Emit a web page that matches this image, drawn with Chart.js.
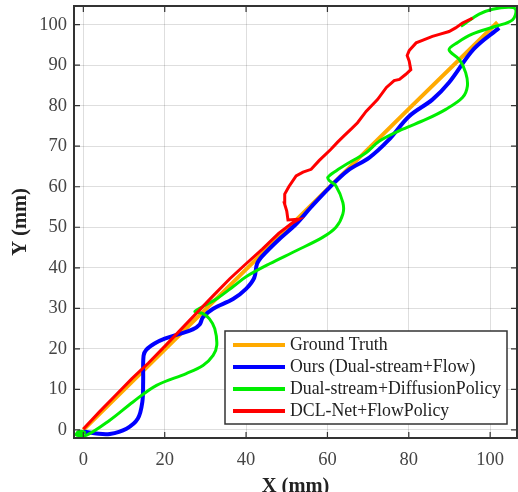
<!DOCTYPE html>
<html>
<head>
<meta charset="utf-8">
<script src="https://cdn.jsdelivr.net/npm/chart.js@4.4.1/dist/chart.umd.min.js"></script>
<style>
body { margin: 0; background: #fff; }
#wrap { width: 518px; height: 492px; }
</style>
</head>
<body>
<div id="wrap"><canvas id="trajChart"></canvas></div>
<script>
// trajectory data (mm)
const seriesNames = ["Ground Truth", "Ours (Dual-stream+Flow)", "Dual-stream+DiffusionPolicy", "DCL-Net+FlowPolicy"];
const seriesColors = ["#ffaa00", "#0000ff", "#00ee00", "#ff0000"];

const xTicks = [0, 20, 40, 60, 80, 100];
const yTicks = [0, 10, 20, 30, 40, 50, 60, 70, 80, 90, 100];

const gtX = [0, 20, 40, 60, 80, 101.8];
const gtY = [0, 19.8, 39.6, 59.4, 79.2, 100.6];

const oursX = [0, 3.2, 6.5, 10.6, 13.4, 14.5, 14.7, 14.8, 15.5, 17.5, 20, 23.7, 26.9, 28.6, 29.4, 31.9, 36.8, 40, 42, 42.7, 44.1, 48.2, 52.3, 56, 60.5, 65, 70.3, 75, 80.1, 85.8, 89.9, 96, 102.2];
const oursY = [-0.4, -0.9, -1.0, 0.3, 2.8, 6.9, 12, 18.3, 19.8, 21.3, 22.5, 23.7, 24.8, 26, 27.8, 29.9, 32.3, 34.8, 37.5, 41, 43, 47.1, 50.8, 55, 59.8, 64, 67.2, 71.5, 77.4, 81.5, 85.7, 94, 99.2];

const diffX = [-2, -1.2, 0.3, -1.5, 0.8, 6.5, 12.2, 18, 25.3, 29.4, 31.9, 32.8, 32.3, 31, 29.4, 27.4, 29.5, 33, 37, 40, 45.8, 52.3, 58.8, 62.1, 63.8, 63.8, 62.1, 60.5, 60.1, 62.1, 65.4, 69.5, 72.8, 78.5, 84.2, 89.1, 93.2, 94.4, 94, 92.4, 89.9, 92, 95.7, 101.4, 105.5, 106.3, 104.7, 100.6, 97.3, 94, 92.8];
const diffY = [-1.5, -0.4, -0.6, -1.3, -1.3, 2.4, 6.9, 11, 13.9, 15.9, 18.4, 20.9, 25, 27.4, 28.7, 29.2, 30.5, 32.5, 35.5, 37.8, 41, 44.2, 47.5, 50, 53.3, 56.1, 60.2, 61.5, 62.3, 63.9, 66, 68.4, 71.3, 74.2, 76.6, 79.1, 82, 84.8, 88.1, 91.4, 93.8, 95.6, 97.7, 99.6, 101.2, 103.7, 104.3, 103.8, 102.6, 100.4, 99.6];

const dclX = [0, 4, 8, 12, 16, 20, 24, 28, 32, 36, 40, 44, 48, 51, 53, 50.3, 50, 49.4, 49.5, 50.5, 52.3, 54, 56, 58, 60.8, 62.5, 64, 66, 67.4, 69.5, 72.3, 74.5, 76.4, 77.7, 79.2, 80.5, 80.1, 79.6, 80.1, 81.8, 83.5, 85.8, 87.5, 89.9, 91.5, 93.2, 95.7];
const dclY = [0.2, 4.5, 8.6, 12.7, 16.5, 20.6, 24.8, 29, 33.2, 37.3, 41, 44.6, 48.5, 50.8, 52, 51.8, 54, 56, 58.2, 60, 62.7, 63.6, 64.3, 66.5, 69.2, 71, 72.5, 74.4, 75.8, 78.6, 81.5, 84.5, 86.2, 86.5, 87.7, 88.9, 91, 92.4, 93.6, 95.5, 96.2, 97.1, 97.6, 98.3, 99.2, 100.4, 101.6];

function toPoints(xs, ys) {
    return xs.map((x, i) => ({ x: x, y: ys[i] }));
}

Chart.defaults.font.family = "'Liberation Serif', 'Times New Roman', serif";

// box around the plot + inward tick marks on all four sides
const boxPlugin = {
    id: "boxPlugin",
    afterDraw(chart) {
        const ctx = chart.ctx;
        const a = chart.chartArea;
        const xs = chart.scales.x, ys = chart.scales.y;
        ctx.save();
        ctx.strokeStyle = "#333";
        ctx.lineWidth = 1.2;
        ctx.beginPath();
        xs.ticks.forEach(t => {
            const p = xs.getPixelForValue(t.value);
            ctx.moveTo(p, a.bottom); ctx.lineTo(p, a.bottom - 6);
            ctx.moveTo(p, a.top); ctx.lineTo(p, a.top + 6);
        });
        ys.ticks.forEach(t => {
            const p = ys.getPixelForValue(t.value);
            ctx.moveTo(a.left, p); ctx.lineTo(a.left + 6, p);
            ctx.moveTo(a.right, p); ctx.lineTo(a.right - 6, p);
        });
        ctx.stroke();
        ctx.lineWidth = 2;
        ctx.strokeRect(a.left, a.top, a.right - a.left, a.bottom - a.top);
        ctx.restore();
    }
};

// legend drawn inside the plot, lower right
const legendPlugin = {
    id: "legendBox",
    afterDraw(chart) {
        const ctx = chart.ctx;
        const x0 = 225, y0 = 331, w = 282, h = 93;
        ctx.save();
        ctx.fillStyle = "#fff";
        ctx.fillRect(x0, y0, w, h);
        ctx.strokeStyle = "#333";
        ctx.lineWidth = 1.5;
        ctx.strokeRect(x0, y0, w, h);
        ctx.font = "17.8px 'Liberation Serif', serif";
        ctx.textBaseline = "middle";
        seriesNames.forEach((name, i) => {
            const yy = y0 + 14 + i * 22;
            ctx.strokeStyle = seriesColors[i];
            ctx.lineWidth = 4;
            ctx.beginPath();
            ctx.moveTo(x0 + 8, yy);
            ctx.lineTo(x0 + 60, yy);
            ctx.stroke();
            ctx.fillStyle = "#222";
            ctx.fillText(name, x0 + 65, yy);
        });
        ctx.restore();
    }
};

const ctx = document.getElementById("trajChart").getContext("2d");
new Chart(ctx, {
    type: "scatter",
    data: {
        datasets: [
            { label: seriesNames[0], data: toPoints(gtX, gtY), borderColor: seriesColors[0], borderWidth: 4, order: 4 },
            { label: seriesNames[1], data: toPoints(oursX, oursY), borderColor: seriesColors[1], borderWidth: 4, order: 3, tension: 0.35 },
            { label: seriesNames[2], data: toPoints(diffX, diffY), borderColor: seriesColors[2], borderWidth: 3, order: 2, tension: 0.35 },
            { label: seriesNames[3], data: toPoints(dclX, dclY), borderColor: seriesColors[3], borderWidth: 3, order: 1, tension: 0 }
        ].map(d => Object.assign({ showLine: true, pointRadius: 0, fill: false }, d))
    },
    options: {
        responsive: true,
        maintainAspectRatio: false,
        animation: false,
        layout: { padding: { top: 6, right: 1, left: 0, bottom: 0 } },
        plugins: { legend: { display: false }, tooltip: { enabled: false } },
        scales: {
            x: {
                type: "linear",
                min: -2.3,
                max: 106.6,
                afterBuildTicks: s => { s.ticks = xTicks.map(v => ({ value: v })); },
                afterFit: s => { s.height = 54; s.paddingLeft = 0; s.paddingRight = 0; },
                grid: { color: "rgba(0,0,0,0.13)", drawTicks: false },
                border: { display: false },
                ticks: { color: "#444", font: { size: 18.5 }, padding: 11 },
                title: { display: true, text: "X (mm)", color: "#222", font: { size: 20.5, weight: "bold" }, padding: { top: 0, bottom: -7 } }
            },
            y: {
                type: "linear",
                min: -2,
                max: 104.6,
                afterBuildTicks: s => { s.ticks = yTicks.map(v => ({ value: v })); },
                afterFit: s => { s.width = 74; s.paddingTop = 0; s.paddingBottom = 0; },
                grid: { color: "rgba(0,0,0,0.13)", drawTicks: false },
                border: { display: false },
                ticks: { color: "#444", font: { size: 18.5 }, padding: 7 },
                title: { display: true, text: "Y (mm)", color: "#222", font: { size: 20.5, weight: "bold" }, padding: { top: 8, bottom: 0 } }
            }
        }
    },
    plugins: [boxPlugin, legendPlugin]
});
</script>
</body>
</html>
